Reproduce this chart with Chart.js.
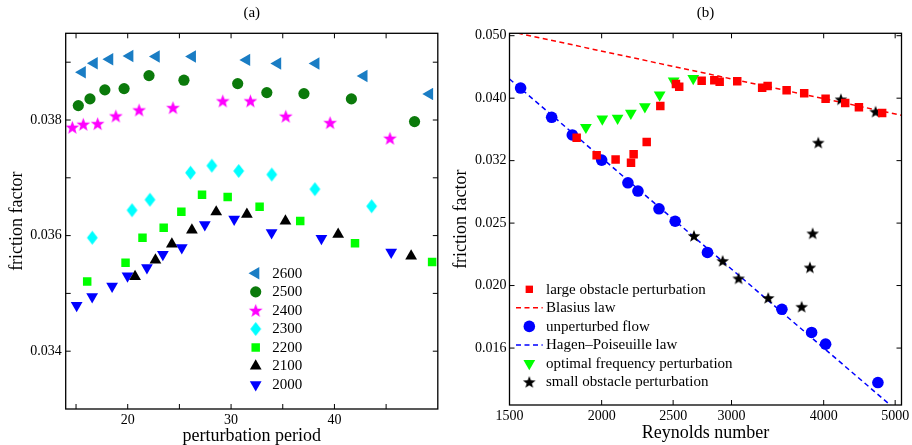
<!DOCTYPE html>
<html><head><meta charset="utf-8">
<script src="https://cdn.jsdelivr.net/npm/chart.js@4.4.1/dist/chart.umd.min.js"></script>
<style>
html,body{margin:0;padding:0;background:#fff;overflow:hidden;width:912px;height:445px;position:relative;}
#wa{position:absolute;left:0;top:0;width:445px;height:447px;}
#wb{position:absolute;left:445px;top:0;width:485px;height:445px;}
</style></head><body>
<div id="wa"><canvas id="ca"></canvas></div>
<div id="wb"><canvas id="cb"></canvas></div>
<script>
// ---------- Panel (a) data: perturbation period vs friction factor ----------
const seriesNamesA = ['2600','2500','2400','2300','2200','2100','2000'];
const periods2600 = [15.6,16.75,18.25,20.2,22.75,26.25,31.5,34.5,38.2,42.85,49.2];
const f2600 = [0.038827,0.038983,0.039052,0.039109,0.039097,0.039097,0.03904,0.038976,0.038976,0.038763,0.038451];
const periods2500 = [15.22,16.35,17.79,19.65,22.06,25.44,30.64,33.46,37.05,41.64,47.75];
const f2500 = [0.038249,0.038365,0.038521,0.038543,0.038768,0.038689,0.03863,0.038474,0.038457,0.038365,0.037972];
const periods2400 = [14.64,15.70,17.09,18.85,21.10,24.38,29.20,31.87,35.29,39.58,45.37];
const f2400 = [0.037874,0.037926,0.037937,0.03807,0.038174,0.038214,0.03833,0.03833,0.038065,0.037954,0.037684];
const periods2300 = [16.57,20.42,22.15,26.08,28.14,30.74,33.94,38.11,43.60];
const f2300 = [0.035963,0.036439,0.036621,0.037088,0.03721,0.037118,0.037057,0.036803,0.036508];
const periods2200 = [16.08,19.79,21.43,23.48,25.19,27.19,29.67,32.76,36.69,41.99,49.45];
const f2200 = [0.035204,0.03553,0.035961,0.036136,0.036413,0.036706,0.036668,0.0365,0.036252,0.035866,0.035542];
const periods2100 = [20.71,22.68,24.27,26.21,28.56,31.53,35.26,40.36,47.42];
const f2100 = [0.03529,0.035578,0.035852,0.036094,0.036409,0.036368,0.036253,0.036021,0.035647];
const periods2000 = [15.06,16.56,18.49,19.98,21.86,23.40,25.23,27.46,30.30,33.92,38.74,45.49];
const f2000 = [0.034791,0.034943,0.035125,0.035302,0.035444,0.035674,0.03579,0.036188,0.036285,0.036051,0.035951,0.035712];
const xTicksA = [15,20,25,30,35,40,45];
const xTickLabelsA = ['','20','','30','','40',''];
const yTicksA = [0.034,0.035,0.036,0.037,0.038,0.039];
const yTickLabelsA = ['0.034','','0.036','','0.038',''];

// ---------- Panel (b) data: Reynolds number vs friction factor ----------
const reLarge = [1850,1969,2089,2192,2210,2302,2402,2522,2548,2733,2843,2891,3054,3301,3358,3563,3764,4024,4278,4465,4801];
const fLarge = [0.03447,0.03234,0.03184,0.03145,0.03246,0.03394,0.03870,0.04192,0.04151,0.04243,0.04249,0.04227,0.04233,0.04136,0.04162,0.04097,0.04052,0.03973,0.03912,0.03851,0.03772];
const reBlasius = [1500,5100];
const fBlasius = [0.0508,0.0374];
const reUnpert = [1553,1711,1825,2000,2171,2240,2392,2516,2783,3511,3852,4024,4738];
const fUnpert = [0.04131,0.03713,0.03481,0.03176,0.02924,0.02837,0.02659,0.02541,0.02268,0.01843,0.01694,0.01623,0.01411];
const reHP = [1500,5100];
const fHP = [0.0427,0.01255];
const reOptimal = [1904,2004,2102,2191,2289,2397,2504,2662];
const fOptimal = [0.0358,0.0369,0.0370,0.0377,0.0386,0.0403,0.0424,0.0428];
const reSmall = [2668,2918,3067,3364,3734,3832,3865,3933,4221,4704];
const fSmall = [0.02409,0.02199,0.02063,0.01921,0.01860,0.02147,0.02431,0.03385,0.03964,0.03789];
const xTicksB = [1500,2000,2500,3000,4000,5000];
const xTickLabelsB = ['1500','2000','2500','3000','4000','5000'];
const yTicksB = [0.05,0.03981,0.0317,0.02524,0.0201,0.016];
const yTickLabelsB = ['0.050','0.040','0.032','0.025','0.020','0.016'];
const legendNamesB = ['large obstacle perturbation','Blasius law','unperturbed flow','Hagen\u2013Poiseuille law','optimal frequency perturbation','small obstacle perturbation'];

// ---------- styling ----------
const FONT = "'Liberation Serif','Times New Roman',serif";
Chart.defaults.font.family = FONT;
Chart.defaults.color = '#000';

function starImg(color, R) {
  const s = Math.ceil(R * 2) + 2;
  const c = document.createElement('canvas'); c.width = c.height = s;
  const g = c.getContext('2d'); g.fillStyle = color; g.beginPath();
  for (let i = 0; i < 10; i++) {
    const r = i % 2 ? R * 0.42 : R;
    const a = -Math.PI / 2 + i * Math.PI / 5;
    const x = s / 2 + r * Math.cos(a), y = s / 2 + r * Math.sin(a) + R * 0.08;
    i ? g.lineTo(x, y) : g.moveTo(x, y);
  }
  g.closePath(); g.fill(); return c;
}
function diamondImg(color, hw, hh) {
  const w = Math.ceil(hw * 2) + 2, h = Math.ceil(hh * 2) + 2;
  const c = document.createElement('canvas'); c.width = w; c.height = h;
  const g = c.getContext('2d'); g.fillStyle = color; g.beginPath();
  g.moveTo(w / 2, h / 2 - hh); g.lineTo(w / 2 + hw, h / 2); g.lineTo(w / 2, h / 2 + hh); g.lineTo(w / 2 - hw, h / 2);
  g.closePath(); g.fill(); return c;
}

const stylesA = [
  {style:'triangle', color:'#1a7dc4', r:7.2, rot:-90},
  {style:'circle', color:'#0b7a0b', r:5.6, rot:0},
  {style:starImg('#ff00ff', 7.2), color:'#ff00ff', r:6, rot:0},
  {style:diamondImg('#00ffff', 5.4, 7), color:'#00ffff', r:6, rot:0},
  {style:'rect', color:'#00ff00', r:6, rot:0},
  {style:'triangle', color:'#000000', r:6.8, rot:0},
  {style:'triangle', color:'#0000ff', r:6.8, rot:180}
];
const xsA = [periods2600, periods2500, periods2400, periods2300, periods2200, periods2100, periods2000];
const ysA = [f2600, f2500, f2400, f2300, f2200, f2100, f2000];

function pts(xs, ys) { return xs.map((x, i) => ({x: x, y: ys[i]})); }
function scatterDs(label, xs, ys, st, order) {
  return {label, data: pts(xs, ys), pointStyle: st.style, pointRadius: st.r, pointHoverRadius: st.r,
    pointRotation: st.rot, backgroundColor: st.color, borderColor: st.color, pointBorderWidth: 0,
    showLine: false, order: order || 0};
}

const framePlugin = {
  id: 'frame',
  afterDraw(chart, args, o) {
    const {ctx, chartArea: a, scales} = chart;
    ctx.save();
    ctx.strokeStyle = '#000'; ctx.lineWidth = 1;
    ctx.beginPath();
    o.xTicks.forEach(v => {
      const p = scales.x.getPixelForValue(v);
      if (p <= a.left + 1 || p >= a.right - 1) return;
      ctx.moveTo(p, a.bottom); ctx.lineTo(p, a.bottom - o.len);
      ctx.moveTo(p, a.top); ctx.lineTo(p, a.top + o.len);
    });
    o.yTicks.forEach(v => {
      const p = scales.y.getPixelForValue(v);
      if (p <= a.top + 1 || p >= a.bottom - 1) return;
      ctx.moveTo(a.left, p); ctx.lineTo(a.left + o.len, p);
      ctx.moveTo(a.right, p); ctx.lineTo(a.right - o.len, p);
    });
    ctx.stroke();
    ctx.lineWidth = 1.3;
    ctx.strokeRect(a.left, a.top, a.right - a.left, a.bottom - a.top);
    ctx.restore();
  }
};

const legendPlugin = {
  id: 'inlegend',
  afterDraw(chart, args, o) {
    const {ctx, chartArea: a} = chart;
    ctx.save();
    ctx.font = o.fontSize + 'px ' + FONT;
    ctx.textAlign = 'left'; ctx.textBaseline = 'middle';
    o.items.forEach((it, i) => {
      const y = a.top + o.rowY0 + i * o.dy;
      if (it.type === 'line') {
        ctx.strokeStyle = it.color; ctx.lineWidth = 1.5; ctx.setLineDash([5, 3.5]);
        ctx.beginPath(); ctx.moveTo(a.left + o.lineX0, y); ctx.lineTo(a.left + o.lineX1, y); ctx.stroke();
        ctx.setLineDash([]);
      } else {
        ctx.fillStyle = it.color; ctx.strokeStyle = it.color;
        Chart.helpers.drawPoint(ctx, {pointStyle: it.style, radius: it.r, rotation: it.rot, borderWidth: 0}, a.left + o.markerX, y);
      }
      ctx.fillStyle = '#000';
      ctx.fillText(it.text, a.left + o.textX, y + 0.5);
    });
    ctx.restore();
  }
};

// ---------- Chart (a) ----------
new Chart(document.getElementById('ca'), {
  type: 'scatter',
  data: { datasets: seriesNamesA.map((n, i) => scatterDs(n, xsA[i], ysA[i], stylesA[i])) },
  options: {
    responsive: true, maintainAspectRatio: false, animation: false, devicePixelRatio: 1,
    layout: { padding: {left: 0, right: 6.3, top: 0, bottom: 0} },
    plugins: {
      legend: {display: false}, tooltip: {enabled: false},
      title: {display: true, text: '(a)', fullSize: false, color: '#000', font: {size: 15, weight: 'normal'}, padding: {top: 4, bottom: 11.3}},
      frame: {xTicks: xTicksA, yTicks: yTicksA, len: 5},
      inlegend: {
        fontSize: 15, markerX: 190, textX: 206.5, rowY0: 240, dy: 18.55,
        items: seriesNamesA.map((n, i) => ({type: 'point', style: stylesA[i].style, color: stylesA[i].color, r: stylesA[i].r, rot: stylesA[i].rot, text: n}))
      }
    },
    scales: {
      x: {
        type: 'linear', min: 14, max: 50,
        afterBuildTicks: s => { s.ticks = xTicksA.map(v => ({value: v})); },
        afterFit: s => { s.height = 38; },
        grid: {display: false, drawTicks: false}, border: {display: false},
        ticks: {padding: 3.3, font: {size: 14}, color: '#000', maxRotation: 0, autoSkip: false,
          callback: (v, i) => xTickLabelsA[i]},
        title: {display: true, text: 'perturbation period', color: '#000', font: {size: 18}, padding: {top: 0, bottom: 0}}
      },
      y: {
        type: 'linear', min: 0.033, max: 0.0395,
        afterBuildTicks: s => { s.ticks = yTicksA.map(v => ({value: v})); },
        afterFit: s => { s.width = 65.7; },
        grid: {display: false, drawTicks: false}, border: {display: false},
        ticks: {padding: 4, font: {size: 14}, color: '#000', autoSkip: false,
          callback: (v, i) => yTickLabelsA[i]},
        title: {display: true, text: 'friction factor', color: '#000', font: {size: 18}, padding: {top: 6.2, bottom: 0}}
      }
    }
  },
  plugins: [framePlugin, legendPlugin]
});

// ---------- Chart (b) ----------
const stLarge = {style:'rect', color:'#ff0000', r:6, rot:0};
const stUnpert = {style:'circle', color:'#0000ff', r:5.8, rot:0};
const stOpt = {style:'triangle', color:'#00ff00', r:6.8, rot:180};
const stSmall = {style:starImg('#000000', 6.6), color:'#000000', r:6, rot:0};

function lineDs(label, xs, ys, color) {
  return {label, data: pts(xs, ys), showLine: true, pointRadius: 0, borderColor: color, backgroundColor: color,
    borderWidth: 1.5, borderDash: [5, 3.5], order: 10};
}

new Chart(document.getElementById('cb'), {
  type: 'scatter',
  data: { datasets: [
    scatterDs(legendNamesB[0], reLarge, fLarge, stLarge),
    lineDs(legendNamesB[1], reBlasius, fBlasius, '#ff0000'),
    scatterDs(legendNamesB[2], reUnpert, fUnpert, stUnpert),
    lineDs(legendNamesB[3], reHP, fHP, '#0000ff'),
    scatterDs(legendNamesB[4], reOptimal, fOptimal, stOpt),
    scatterDs(legendNamesB[5], reSmall, fSmall, stSmall)
  ] },
  options: {
    responsive: true, maintainAspectRatio: false, animation: false, devicePixelRatio: 1,
    layout: { padding: {left: 0, right: 28.5, top: 0, bottom: 1} },
    plugins: {
      legend: {display: false}, tooltip: {enabled: false},
      title: {display: true, text: '(b)', fullSize: false, color: '#000', font: {size: 15, weight: 'normal'}, padding: {top: 4, bottom: 11.3}},
      frame: {xTicks: xTicksB, yTicks: yTicksB, len: 5},
      inlegend: {
        fontSize: 15, markerX: 19.8, lineX0: 6.5, lineX1: 33.2, textX: 36.5, rowY0: 256, dy: 18.55,
        items: [
          {type: 'point', style: stLarge.style, color: stLarge.color, r: 5.2, rot: 0, text: legendNamesB[0]},
          {type: 'line', color: '#ff0000', text: legendNamesB[1]},
          {type: 'point', style: stUnpert.style, color: stUnpert.color, r: stUnpert.r, rot: 0, text: legendNamesB[2]},
          {type: 'line', color: '#0000ff', text: legendNamesB[3]},
          {type: 'point', style: stOpt.style, color: stOpt.color, r: stOpt.r, rot: 180, text: legendNamesB[4]},
          {type: 'point', style: stSmall.style, color: stSmall.color, r: stSmall.r, rot: 0, text: legendNamesB[5]}
        ]
      }
    },
    scales: {
      x: {
        type: 'logarithmic', min: 1500, max: 5100,
        afterBuildTicks: s => { s.ticks = xTicksB.map(v => ({value: v})); },
        afterFit: s => { s.height = 39; },
        grid: {display: false, drawTicks: false}, border: {display: false},
        ticks: {padding: 2.6, font: {size: 14}, color: '#000', maxRotation: 0, autoSkip: false,
          callback: (v, i) => xTickLabelsB[i]},
        title: {display: true, text: 'Reynolds number', color: '#000', font: {size: 18}, padding: {top: 0, bottom: 0}}
      },
      y: {
        type: 'logarithmic', min: 0.013, max: 0.05044,
        afterBuildTicks: s => { s.ticks = yTicksB.map(v => ({value: v})); },
        afterFit: s => { s.width = 64.5; },
        grid: {display: false, drawTicks: false}, border: {display: false},
        ticks: {padding: 3, font: {size: 14}, color: '#000', autoSkip: false,
          callback: (v, i) => yTickLabelsB[i]},
        title: {display: true, text: 'friction factor', color: '#000', font: {size: 18}, padding: {top: 5.2, bottom: 0}}
      }
    }
  },
  plugins: [framePlugin, legendPlugin]
});
</script>
</body></html>
